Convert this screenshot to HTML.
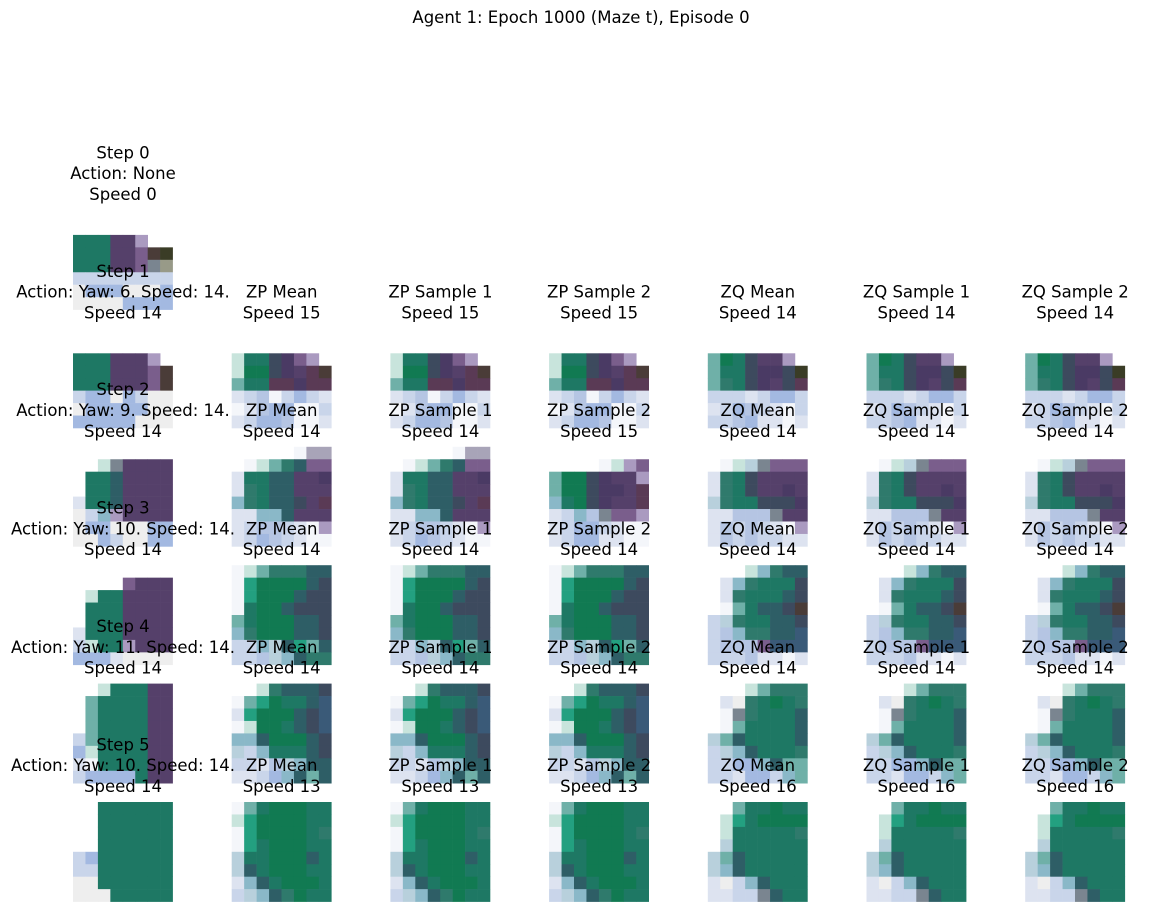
<!DOCTYPE html>
<html><head><meta charset="utf-8"><style>
body{margin:0;background:#fff;}
svg text{font-family:"DejaVu Sans","Liberation Sans",sans-serif;font-size:16.5px;fill:#000;}
</style></head><body>
<svg id="fig" width="1151" height="911" viewBox="0 0 1151 911" xmlns="http://www.w3.org/2000/svg">
<rect width="1151" height="911" fill="#fff"/>
<text x="581" y="23" text-anchor="middle">Agent 1: Epoch 1000 (Maze t), Episode 0</text>
<g id="imgs"></g><g id="titles"></g>
</svg>
<script>
const palette={'.':'#ffffff','w':'#f4f6fa','W':'#eeeeee','L':'#c9d5ea','l':'#dde3f0','B':'#a3b9e1','b':'#b5c5e3',
'G':'#1e7864','g':'#117a52','h':'#2f7a6c','d':'#2e5e66','P':'#55406a','p':'#4a3a64','q':'#7a5e8c','r':'#aa9ac0',
'm':'#5a3a55','k':'#4a3c38','K':'#3a3c26','n':'#3d4a5e','c':'#6fb0a8','C':'#c8e4dc','T':'#23a080','s':'#8ab8c8',
'S':'#b8d0dc','D':'#3a5a78','x':'#7a8590','y':'#989a88','v':'#a8a4b8'};
const rowNames=['step-0','step-1','step-2','step-3','step-4','step-5'];
const colNames=['observation','zp-mean','zp-sample-1','zp-sample-2','zq-mean','zq-sample-1','zq-sample-2'];
const actions=['None','Yaw: 6. Speed: 14.','Yaw: 9. Speed: 14.','Yaw: 10. Speed: 14.','Yaw: 11. Speed: 14.','Yaw: 10. Speed: 14.'];
const obsSpeeds=[0,14,14,14,14,14];
const genSpeeds=[[],[15,15,15,14,14,14],[14,14,15,14,14,14],[14,14,14,14,14,14],[14,14,14,14,14,14],[13,13,13,16,16,16]];
const genLabels=['ZP Mean','ZP Sample 1','ZP Sample 2','ZQ Mean','ZQ Sample 1','ZQ Sample 2'];
const obsGrids=[
['........','........','GGGPPr..','GGGPPqkK','GGGPPqxy','LLLLLLLL','WBBBWWWB','WWWWBBBB'],
['........','........','GGGPPPr.','GGGPPPqk','GGGPPPqk','LBBWBLWW','WBBBBBWW','BBBBBWWW'],
['........','..CxPPPP','.GGdPPPP','.GGdPPPP','lGGdPPPP','WLsrPPPP','WBBWWWBB','WWBLWWBB'],
['........','....qPPP','.CGGPPPP','.GGGPPPP','.GGGPPPP','lGGGPPPP','LCGGrPPP','BBBlWWWW'],
['..CGGGPP','.cGGGGPP','.cGGGGPP','.cGGGGPP','LcGGGGPP','BCGGGGPP','lwGGGGPP','LBBBBGPP'],
['..GGGGGG','..GGGGGG','..GGGGGG','..GGGGGG','LBGGGGGG','LLGGGGGG','WWGGGGGG','WWWGGGGG']];
const zpGrids=[null,
['........','........','CGGnpqr.','CggnpPmk','cGGmmpmm','lLbwLBLl','wlbBBwwL','lLBBbwwl'],
['.....wvv','.wCchdqq','lGGddPPp','lhGddPPP','shGddnPm','llssdPPP','lLbbLlwr','lLBbLlww'],
['wCchhhdd','wTggggdn','wTgggdnn','wGggdnnn','cGgggddn','shgggddn','LLsSdTcd','LLbSsdhh'],
['..Chdddn','wcTgGGdD','lTgggdnD','wCggGdnD','ssdgggdn','SLsGGGdn','LLlbSsdd','llLBsdcd'],
['wcGgggGG','CTggggGG','wTggggGh','wTGgggGG','SGGgggdG','SdGgggGG','lsdGgggG','LSsdhgGG']];
const zp2Grids=[null,null,
['........','....wCrq','cggnpPPr','cggnppPm','sGgnpPPm','lLsbxqqr','lLBBLlww','lLBBllww'],null,null,null];
const zqGrids=[null,
['........','........','cgGnPPr.','cGGnppnK','chGnpPnm','LLLlLBBL','lLBbLlwL','LLbBllwl'],
['........','.wCSxqqq','lhGnPPPP','lhGnPPpP','ShGGnnnp','llbbbxPP','lbLbLlwr','lbLbLLll'],
['...Cshdd','.lshGGGn','.lhGGGdn','.wcGddnk','LShGGddn','LbshhddD','LbbbqDDD','LLLbllwl'],
['...Cchhh','.lWhGgGh','.wxhGGGd','.wcGGGGd','ScdGGGGd','LSsdGGGh','LLBBsdcc','LLlBBLsc'],
['..cGGgGG','.CTGgggg','.CGGGGGh','.SGGGGGG','ScdGGGGG','SsdGGGGG','lWLsdGGG','llLLxdGG']];
const NS='http://www.w3.org/2000/svg';
const X0=73,DX=158.7,Y0=210,DY=118.4,CELL=12.45;
const imgs=document.getElementById('imgs'),titles=document.getElementById('titles');
function gridFor(r,c){
  if(c===0) return obsGrids[r];
  if(r===0) return null;
  if(c<=3){ if(c===3&&zp2Grids[r]) return zp2Grids[r]; return zpGrids[r]; }
  return zqGrids[r];
}
for(let r=0;r<6;r++){for(let c=0;c<7;c++){
  const g=gridFor(r,c); if(!g) continue;
  const left=X0+c*DX, top=Y0+r*DY;
  const grp=document.createElementNS(NS,'g');
  
  
  g.forEach((row,i)=>{for(let j=0;j<8;j++){
    const ch=row[j]; if(ch==='.') continue;
    const rc=document.createElementNS(NS,'rect');
    rc.setAttribute('x',(left+j*CELL).toFixed(2));rc.setAttribute('y',(top+i*CELL).toFixed(2));
    rc.setAttribute('width',(CELL+0.3).toFixed(2));rc.setAttribute('height',(CELL+0.3).toFixed(2));
    rc.setAttribute('fill',palette[ch]);
    grp.appendChild(rc);
  }});
  imgs.appendChild(grp);
}}
function addTitle(lines,cx,top,name){
  const t=document.createElementNS(NS,'text');
  
  
  t.setAttribute('text-anchor','middle');
  const n=lines.length;
  lines.forEach((s,i)=>{
    const ts=document.createElementNS(NS,'tspan');
    ts.setAttribute('x',cx);
    ts.setAttribute('y',(top-10-(n-1-i)*20.8).toFixed(1));
    ts.textContent=s; t.appendChild(ts);
  });
  titles.appendChild(t);
}
for(let r=0;r<6;r++){
  const top=Y0+r*DY;
  addTitle(['Step '+r,'Action: '+actions[r],'Speed '+obsSpeeds[r]],X0+50,top,rowNames[r]+'-title');
  if(r===0) continue;
  for(let c=1;c<7;c++){
    addTitle([genLabels[c-1],'Speed '+genSpeeds[r][c-1]],X0+c*DX+50,top,rowNames[r]+'-'+colNames[c]+'-title');
  }
}
</script>
</body></html>
